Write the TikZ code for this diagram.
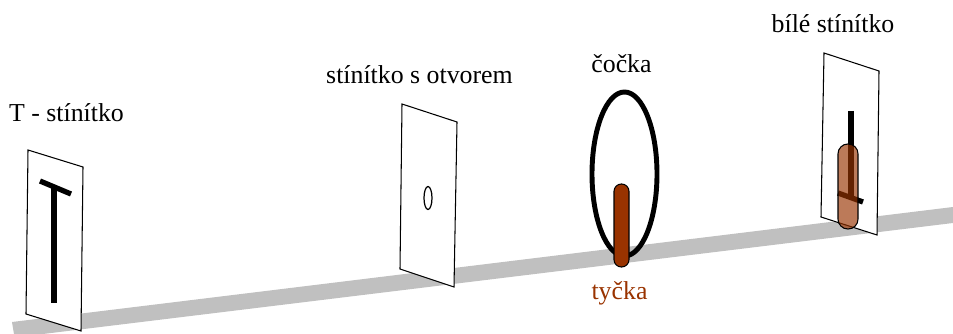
\documentclass[tikz,border=0pt]{standalone}
\usepackage{fontspec}
\setmainfont{Liberation Serif}
\definecolor{rodbrown}{HTML}{993300}
\definecolor{benchgray}{HTML}{C0C0C0}
\tikzset{
  screen/.style={draw=black,fill=white,line width=0.6pt},
  tbar/.style={draw=black,line width=3pt},
  rod/.style={draw=black,line width=0.6pt,fill=rodbrown,rounded corners=4.2pt},
  label/.style={font=\fontsize{14.7}{16}\selectfont,anchor=base,inner sep=0pt}
}
\begin{document}
\begin{tikzpicture}[x=0.02cm,y=-0.02cm]
\useasboundingbox (0,0) rectangle (953,334);
% bench
\fill[benchgray] (12,322)--(953,207)--(953,223)--(43,334)--(14,334)--cycle;
% T screen
\draw[screen] (28,150)--(83,167)--(81,331)--(26,314)--cycle;
\draw[tbar] (40,181)--(71,194);
\draw[tbar] (54,187)--(54,303);
\node[label] (tlabel) at (66.5,122) {T - stínítko};
% screen with the hole
\draw[screen] (402,104)--(457,122)--(454,287)--(400,269)--cycle;
\draw[line width=0.7pt] (428,198) ellipse (4 and 11.5);
\node[label] (holelabel) at (419.5,84) {stínítko s otvorem};
% lens and rod
\draw[line width=2.8pt] (624.5,174) ellipse (32.5 and 82);
\draw[rod] (614,184) rectangle (629,267);
\node[label] (lenslabel) at (621.5,73) {čočka};
\node[label,text=rodbrown] (rodlabel) at (619.5,299) {tyčka};
% white screen with the image
\draw[screen] (824,53)--(879,71)--(877,235)--(821,217)--cycle;
\draw[tbar] (851,111)--(851,197);
\draw[tbar] (838,193)--(863,202);
\draw[rod,rounded corners=5.6pt,fill opacity=0.65] (838,144) rectangle (858,229);
\node[label] (whitelabel) at (833,33) {bílé stínítko};
\end{tikzpicture}
\end{document}
